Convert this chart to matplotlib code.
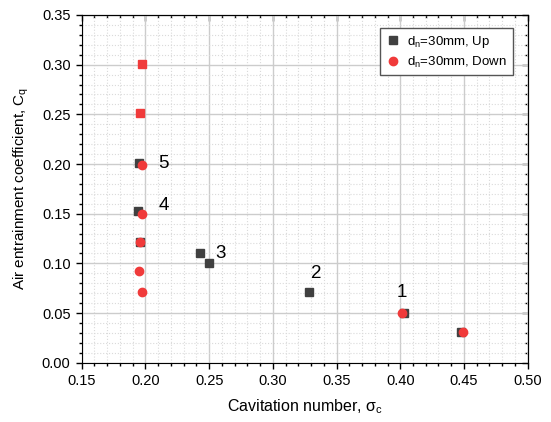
import matplotlib.pyplot as plt
from matplotlib.ticker import MultipleLocator, FormatStrFormatter, NullFormatter

plt.rcParams['font.family'] = ['Liberation Sans', 'DejaVu Sans']
plt.rcParams['mathtext.fontset'] = 'custom'
plt.rcParams['mathtext.rm'] = 'Liberation Sans'

# data
up_sigma = [0.195, 0.194, 0.196, 0.243, 0.250, 0.328, 0.403, 0.448]
up_cq = [0.201, 0.153, 0.122, 0.110, 0.100, 0.071, 0.050, 0.031]

down_sigma = [0.197, 0.197, 0.196, 0.195, 0.197, 0.401, 0.449]
down_cq = [0.199, 0.150, 0.121, 0.092, 0.071, 0.050, 0.031]

# red squares at the top of the column
extra_sigma = [0.197, 0.196]
extra_cq = [0.301, 0.251]

point_labels = ['1', '2', '3', '4', '5']
label_sigma = [0.397, 0.330, 0.255, 0.210, 0.210]
label_cq = [0.071, 0.090, 0.110, 0.158, 0.201]

fig = plt.figure(figsize=(5.51, 4.22), dpi=100)
ax = fig.add_axes([81.7 / 551, 1 - 362.7 / 422, 446 / 551, 347.7 / 422])

ax.plot(up_sigma, up_cq, 's', color='#404040', markersize=5.2, linestyle='none',
        label='d$_\\mathrm{n}$=30mm, Up', zorder=3)
ax.plot(down_sigma, down_cq, 'o', color='#f03a3a', markersize=6, linestyle='none',
        label='d$_\\mathrm{n}$=30mm, Down', zorder=4)
ax.plot(extra_sigma, extra_cq, 's', color='#f03a3a', markersize=5.5, linestyle='none',
        zorder=4)

for t, x, y in zip(point_labels, label_sigma, label_cq):
    ax.text(x, y, t, fontsize=13.5, ha='left', va='center', zorder=5)

ax.set_xlim(0.15, 0.50)
ax.set_ylim(0.0, 0.35)
for axis in (ax.xaxis, ax.yaxis):
    axis.set_major_locator(MultipleLocator(0.05))
    axis.set_minor_locator(MultipleLocator(0.01))
    axis.set_major_formatter(FormatStrFormatter('%.2f'))

ax.grid(which='major', color='#cccccc', linewidth=1.0, zorder=0)
ax.grid(which='minor', color='#dadada', linewidth=0.8, linestyle=':', zorder=0)
ax.set_axisbelow(True)

ax.tick_params(which='both', direction='out', labelsize=10.5, width=1.0)
ax.tick_params(which='major', length=4.5)
ax.tick_params(which='minor', length=2.5)

# mirrored ticks on top and right, pointing inwards, no labels
top = ax.secondary_xaxis('top')
right = ax.secondary_yaxis('right')
for sec, axis in ((top, top.xaxis), (right, right.yaxis)):
    axis.set_major_locator(MultipleLocator(0.05))
    axis.set_minor_locator(MultipleLocator(0.01))
    axis.set_major_formatter(NullFormatter())
    sec.tick_params(which='both', direction='in', width=1.0)
    sec.tick_params(which='major', length=4.5)
    sec.tick_params(which='minor', length=2.5)

ax.set_xlabel('Cavitation number, σ$_\\mathrm{c}$', fontsize=11.5, labelpad=7)
ax.set_ylabel('Air entrainment coefficient, C$_\\mathrm{q}$', fontsize=11, labelpad=8)

ax.legend(loc='upper right', fontsize=9.5, fancybox=False, edgecolor='#555555',
          handlelength=1.0, handletextpad=0.6, borderpad=0.45, labelspacing=0.35,
          framealpha=1, borderaxespad=0, bbox_to_anchor=(0.967, 0.963))

plt.savefig('out.png', dpi=100)
